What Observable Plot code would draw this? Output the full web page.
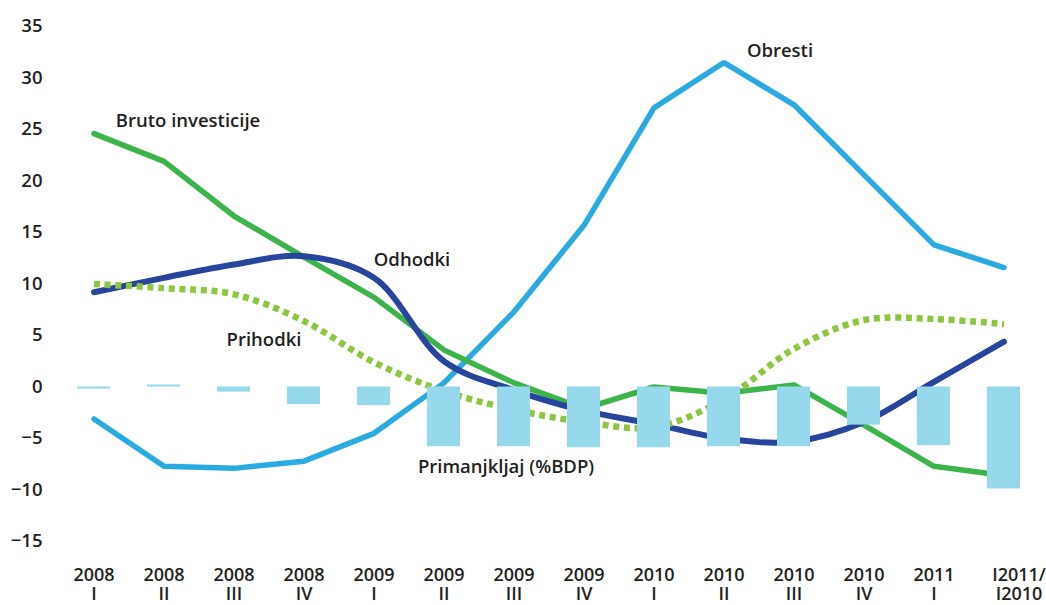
<!DOCTYPE html>
<html>
<head>
<meta charset="utf-8">
<script src="https://cdn.jsdelivr.net/npm/d3@7"></script>
<script src="https://cdn.jsdelivr.net/npm/@observablehq/plot@0.6"></script>
<style>
  html, body { margin: 0; padding: 0; background: #fff; }
  #chart { width: 1046px; height: 605px; }
</style>
</head>
<body>
<div id="chart"></div>
<script>
// Categories (two-line tick labels)
const periods = ["2008\nI","2008\nII","2008\nIII","2008\nIV","2009\nI","2009\nII","2009\nIII","2009\nIV","2010\nI","2010\nII","2010\nIII","2010\nIV","2011\nI","I2011/\nI2010"];
// Series values
const obresti          = [-3.1, -7.7, -7.9, -7.2, -4.5, 0.4, 7.3, 15.7, 27.1, 31.5, 27.4, 20.6, 13.8, 11.6];
const brutoInvesticije = [24.6, 21.9, 16.6, 12.6, 8.7, 3.6, 0.4, -2.1, 0.0, -0.6, 0.2, -3.7, -7.7, -8.6];
const odhodki          = [9.2, 10.6, 11.9, 12.7, 10.6, 2.5, -0.3, -2.3, -3.6, -5.0, -5.3, -3.4, 0.5, 4.4];
const prihodki         = [10.0, 9.6, 9.0, 6.4, 2.4, -0.4, -2.2, -3.4, -3.9, -1.2, 3.7, 6.5, 6.6, 6.1];
const primanjkljaj     = [-0.2, 0.2, -0.5, -1.7, -1.8, -5.8, -5.8, -5.9, -5.9, -5.8, -5.8, -3.7, -5.7, -9.9];
// Y ticks
const yTicks = [-15, -10, -5, 0, 5, 10, 15, 20, 25, 30, 35];
// Series labels
const labelTexts   = ["Obresti", "Bruto investicije", "Odhodki", "Prihodki", "Primanjkljaj (%BDP)"];
const labelPeriods = [periods[9], periods[1], periods[4], periods[3], periods[6]];
const labelValues  = [32.6, 25.8, 12.3, 4.6, -7.8];
const labelOffsets = [56, 24, 38, -40, -8];

const toRows = (vals) => periods.map((p, i) => ({period: p, value: vals[i]}));

const labelMarks = labelTexts.map((t, i) =>
  Plot.text([{text: t, period: labelPeriods[i], value: labelValues[i]}],
    {x: "period", y: "value", text: "text", dx: labelOffsets[i], fill: "#231f20", fontSize: 18.5, fontWeight: 600})
);

const xAxisOpts = {tickSize: 0, tickPadding: 26, lineHeight: 1.05, fontSize: 18, fontWeight: 600};

const chart = Plot.plot({
  width: 1046,
  height: 605,
  marginTop: 26,
  marginBottom: 64,
  marginLeft: 58,
  marginRight: 7,
  style: {fontFamily: "'Open Sans', sans-serif", fontSize: "18.5px", fontWeight: 600, color: "#231f20", background: "#fff"},
  x: {domain: periods, paddingInner: 0.53, paddingOuter: 0.25, align: 0.5, label: null},
  y: {domain: [-15, 35], label: null},
  marks: [
    Plot.axisY({ticks: yTicks, tickSize: 0, tickPadding: 16, fontSize: 18.5, fontWeight: 600}),
    Plot.axisX({...xAxisOpts, ticks: periods.slice(0, 13)}),
    Plot.axisX({...xAxisOpts, ticks: periods.slice(13), dx: 15}),
    Plot.line(toRows(obresti), {x: "period", y: "value", stroke: "#29aae1", strokeWidth: 5.5, strokeLinejoin: "miter"}),
    Plot.line(toRows(brutoInvesticije), {x: "period", y: "value", stroke: "#3bb54a", strokeWidth: 5.5, strokeLinejoin: "miter"}),
    Plot.line(toRows(odhodki), {x: "period", y: "value", stroke: "#27459c", strokeWidth: 6, curve: "catmull-rom"}),
    Plot.line(toRows(prihodki), {x: "period", y: "value", stroke: "#8dc63f", strokeWidth: 6.5, strokeDasharray: "6,4.7", strokeLinecap: "butt", curve: "catmull-rom"}),
    Plot.barY(toRows(primanjkljaj), {x: "period", y: "value", fill: "#97d9ec"}),
    ...labelMarks
  ]
});

document.getElementById("chart").appendChild(chart);
</script>
</body>
</html>
